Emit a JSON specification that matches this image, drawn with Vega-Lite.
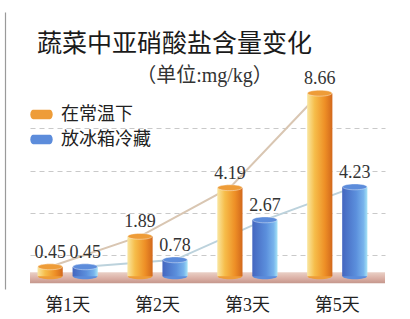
{
  "$schema": "https://vega.github.io/schema/vega-lite/v6.json",
  "width": 410,
  "height": 319,
  "autosize": {"type": "fit", "contains": "padding"},
  "padding": {"left": 5, "top": 12, "right": 25, "bottom": 5},
  "background": "white",
  "config": {
    "view": {"stroke": null},
    "legend": {
      "orient": "none", "legendX": 0, "legendY": 91, "padding": 0,
      "symbolType": "M-0.75,-0.42H0.75A0.25,0.42 0 0 1 0.75,0.42H-0.75A0.25,0.42 0 0 1 -0.75,-0.42Z",
      "symbolSize": 500, "symbolStrokeWidth": 0,
      "labelFont": "Noto Sans CJK SC", "labelFontSize": 18, "labelColor": "#222", "labelOffset": 8, "rowPadding": 4
    }
  },
  "title": {
    "text": "蔬菜中亚硝酸盐含量变化",
    "anchor": "start",
    "frame": "group",
    "offset": -45,
    "dx": 7,
    "font": "Noto Sans CJK SC",
    "fontSize": 25,
    "fontWeight": "normal",
    "color": "#1a1a1a"
  },
  "datasets": {
    "main": [
      {"day": "第1天", "series": "在常温下", "value": 0.45},
      {"day": "第1天", "series": "放冰箱冷藏", "value": 0.45},
      {"day": "第2天", "series": "在常温下", "value": 1.89},
      {"day": "第2天", "series": "放冰箱冷藏", "value": 0.78},
      {"day": "第3天", "series": "在常温下", "value": 4.19},
      {"day": "第3天", "series": "放冰箱冷藏", "value": 2.67},
      {"day": "第5天", "series": "在常温下", "value": 8.66},
      {"day": "第5天", "series": "放冰箱冷藏", "value": 4.23}
    ]
  },
  "data": {"name": "main"},
  "layer": [
    {
      "transform": [{"filter": "datum.series === '在常温下'"}],
      "mark": {"type": "bar", "opacity": 0},
      "encoding": {
        "x": {
          "field": "day", "type": "nominal", "sort": ["第1天", "第2天", "第3天", "第5天"],
          "scale": {"paddingInner": 0.33, "paddingOuter": 0.14, "align": 0.3},
          "title": null,
          "axis": {"domain": false, "ticks": false, "labelAngle": 0, "labelFont": "Liberation Serif, Noto Sans CJK SC", "labelFontSize": 18, "labelColor": "#222", "labelPadding": 7}
        },
        "xOffset": {"field": "series", "type": "nominal", "sort": ["在常温下", "放冰箱冷藏"], "scale": {"domain": ["在常温下", "放冰箱冷藏"], "paddingInner": 0.28, "paddingOuter": 0}},
        "y": {
          "field": "value", "type": "quantitative",
          "scale": {"domain": [-0.6, 12.5], "nice": false, "zero": false},
          "title": "（单位:mg/kg）",
          "axis": {
            "labels": false, "ticks": false, "domain": true, "domainColor": "#9a9a9a", "domainWidth": 1.2, "offset": 25,
            "grid": true, "values": [1, 2, 3, 4, 5, 6, 7, 8],
            "gridColor": {"condition": {"test": "datum.value === 4", "value": "#555555"}, "value": "#c9c9c9"},
            "gridDash": {"condition": {"test": "datum.value === 4", "value": []}, "value": [5, 4]},
            "gridWidth": 1,
            "titleAngle": 0, "titleX": 199, "titleY": 63,
            "titleAlign": "center", "titleBaseline": "middle",
            "titleFont": "Liberation Serif, Noto Sans CJK SC", "titleFontSize": 20, "titleFontWeight": "normal", "titleColor": "#333"
          }
        },
        "y2": {"datum": 0}
      }
    },
    {
      "data": {"values": [{"part": "floor"}]},
      "mark": {
        "type": "rect",
        "fill": {"gradient": "linear", "x1": 0, "y1": 0, "x2": 0, "y2": 1,
          "stops": [{"offset": 0, "color": "#ead0c6"}, {"offset": 0.6, "color": "#d9ada2"}, {"offset": 1, "color": "#c4968c"}]}
      },
      "encoding": {
        "y": {"datum": -0.33, "type": "quantitative", "title": "（单位:mg/kg）"},
        "y2": {"datum": 0.19}
      }
    },
    {
      "mark": {"type": "line", "strokeWidth": 2},
      "encoding": {
        "x": {"field": "day", "type": "nominal", "sort": ["第1天", "第2天", "第3天", "第5天"], "title": null},
        "xOffset": {"field": "series", "type": "nominal", "sort": ["在常温下", "放冰箱冷藏"]},
        "y": {"field": "value", "type": "quantitative", "title": "（单位:mg/kg）"},
        "detail": {"field": "series"},
        "stroke": {"condition": {"test": "datum.series === '在常温下'", "value": "#d9c6b2"}, "value": "#bcd2dc"}
      }
    },
    {
      "mark": {"type": "point", "shape": "M-1,0A1,0.24 0 1,0 1,0A1,0.24 0 1,0 -1,0Z", "size": 600, "filled": true, "opacity": 1},
      "encoding": {
        "x": {"field": "day", "type": "nominal", "sort": ["第1天", "第2天", "第3天", "第5天"], "title": null},
        "xOffset": {"field": "series", "type": "nominal", "sort": ["在常温下", "放冰箱冷藏"]},
        "y": {"datum": 0, "type": "quantitative", "title": "（单位:mg/kg）"},
        "color": {"field": "series", "type": "nominal", "sort": ["在常温下", "放冰箱冷藏"], "title": null}
      }
    },
    {
      "transform": [{"filter": "datum.series === '在常温下'"}],
      "mark": {
        "type": "bar",
        "fill": {"gradient": "linear", "x1": 0, "y1": 0, "x2": 1, "y2": 0,
          "stops": [{"offset": 0, "color": "#f9e6a0"}, {"offset": 0.3, "color": "#f6bd4a"}, {"offset": 0.7, "color": "#ee8f26"}, {"offset": 1, "color": "#d2681c"}]}
      },
      "encoding": {
        "x": {"field": "day", "type": "nominal", "sort": ["第1天", "第2天", "第3天", "第5天"], "title": null},
        "xOffset": {"field": "series", "type": "nominal", "sort": ["在常温下", "放冰箱冷藏"]},
        "y": {"field": "value", "type": "quantitative", "title": "（单位:mg/kg）"},
        "y2": {"datum": 0}
      }
    },
    {
      "transform": [{"filter": "datum.series === '放冰箱冷藏'"}],
      "mark": {
        "type": "bar",
        "fill": {"gradient": "linear", "x1": 0, "y1": 0, "x2": 1, "y2": 0,
          "stops": [{"offset": 0, "color": "#4466bf"}, {"offset": 0.55, "color": "#5b8fdc"}, {"offset": 0.85, "color": "#78b4ec"}, {"offset": 1, "color": "#a6e4f6"}]}
      },
      "encoding": {
        "x": {"field": "day", "type": "nominal", "sort": ["第1天", "第2天", "第3天", "第5天"], "title": null},
        "xOffset": {"field": "series", "type": "nominal", "sort": ["在常温下", "放冰箱冷藏"]},
        "y": {"field": "value", "type": "quantitative", "title": "（单位:mg/kg）"},
        "y2": {"datum": 0}
      }
    },
    {
      "mark": {"type": "point", "shape": "M-1,0A1,0.24 0 1,0 1,0A1,0.24 0 1,0 -1,0Z", "size": 600, "filled": true, "opacity": 1, "stroke": "#ffffff", "strokeOpacity": 0.5, "strokeWidth": 0.8},
      "encoding": {
        "x": {"field": "day", "type": "nominal", "sort": ["第1天", "第2天", "第3天", "第5天"], "title": null},
        "xOffset": {"field": "series", "type": "nominal", "sort": ["在常温下", "放冰箱冷藏"]},
        "y": {"field": "value", "type": "quantitative", "title": "（单位:mg/kg）"},
        "color": {
          "field": "series", "type": "nominal", "sort": ["在常温下", "放冰箱冷藏"], "title": null,
          "scale": {"domain": ["在常温下", "放冰箱冷藏"], "range": ["#ee9c38", "#5c8cdb"]}
        }
      }
    },
    {
      "mark": {"type": "text", "font": "Liberation Serif", "fontSize": 18, "baseline": "alphabetic", "dy": -9, "color": "#333"},
      "encoding": {
        "x": {"field": "day", "type": "nominal", "sort": ["第1天", "第2天", "第3天", "第5天"], "title": null},
        "xOffset": {"field": "series", "type": "nominal", "sort": ["在常温下", "放冰箱冷藏"]},
        "y": {"field": "value", "type": "quantitative", "title": "（单位:mg/kg）"},
        "text": {"field": "value", "type": "quantitative", "format": ".2f"}
      }
    }
  ]
}
